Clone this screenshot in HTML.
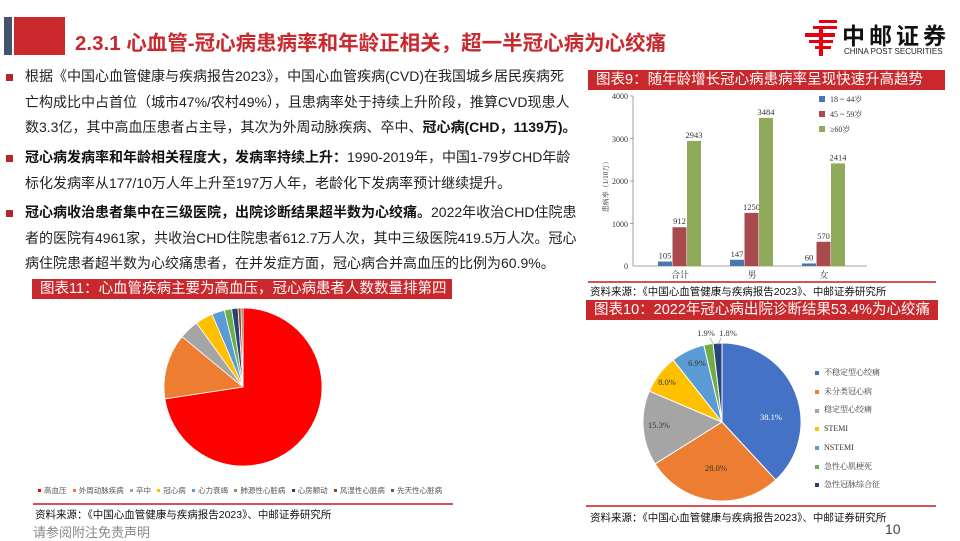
<!DOCTYPE html>
<html><head><meta charset="utf-8">
<style>
body{margin:0;width:960px;height:540px;position:relative;overflow:hidden;background:#fff;font-family:"Liberation Sans","Noto Sans CJK SC",sans-serif;}
.a{position:absolute;white-space:nowrap;}
.txt{position:absolute;left:25px;font-size:14px;color:#222;line-height:25.6px;white-space:nowrap;}
.bul{position:absolute;left:6px;width:7px;height:7px;background:#b5272d;}
.cap{position:absolute;background:#c9282d;color:#fff;font-size:14.5px;line-height:20px;padding-left:8px;}
.src{position:absolute;font-size:10.5px;color:#111;}
.rl{position:absolute;height:2px;background:#c9282d;opacity:.8}
b{font-weight:bold;color:#111}
</style></head><body>
<div class="a" style="left:4px;top:17px;width:8px;height:38px;background:#44546a"></div>
<div class="a" style="left:14px;top:17px;width:51px;height:38px;background:#c9282d"></div>
<div class="a" style="left:75px;top:26px;font-size:20.5px;font-weight:bold;color:#c9282d">2.3.1 心血管-冠心病患病率和年龄正相关，超一半冠心病为心绞痛</div>
<svg class="a" style="left:805px;top:20px" width="34" height="36" viewBox="0 0 34 36">
<g fill="#e60012"><rect x="14" y="0" width="18" height="3"/><rect x="8" y="6" width="24" height="3"/><rect x="0" y="13" width="30" height="4"/><rect x="4" y="20" width="24" height="3"/><rect x="10" y="26" width="16" height="3"/><rect x="14" y="6" width="4" height="30"/></g></svg>
<div class="a" style="left:842px;top:17px;font-size:23px;font-weight:bold;letter-spacing:4px;color:#111">中邮证券</div>
<div class="a" style="left:844px;top:47px;font-size:8px;color:#222">CHINA POST SECURITIES</div>

<div class="bul" style="top:74px"></div>
<div class="txt" style="top:64px">根据《中国心血管健康与疾病报告2023》，中国心血管疾病(CVD)在我国城乡居民疾病死<br>亡构成比中占首位（城市47%/农村49%），且患病率处于持续上升阶段，推算CVD现患人<br>数3.3亿，其中高血压患者占主导，其次为外周动脉疾病、卒中、<b>冠心病(CHD，1139万)。</b></div>
<div class="bul" style="top:155px"></div>
<div class="txt" style="top:145px"><b>冠心病发病率和年龄相关程度大，发病率持续上升：</b>1990-2019年，中国1-79岁CHD年龄<br>标化发病率从177/10万人年上升至197万人年，老龄化下发病率预计继续提升。</div>
<div class="bul" style="top:210px"></div>
<div class="txt" style="top:200px"><b>冠心病收治患者集中在三级医院，出院诊断结果超半数为心绞痛。</b>2022年收治CHD住院患<br>者的医院有4961家，共收治CHD住院患者612.7万人次，其中三级医院419.5万人次。冠心<br>病住院患者超半数为心绞痛患者，在并发症方面，冠心病合并高血压的比例为60.9%。</div>

<div class="cap" style="left:588px;top:70px;width:349px">图表9：随年龄增长冠心病患病率呈现快速升高趋势</div>
<svg class="a" style="left:590px;top:90px" width="350" height="200" font-family="Liberation Serif,Noto Serif CJK SC,serif" font-size="8" fill="#333">
<g stroke="#888" stroke-width="0.8"><line x1="43" y1="6" x2="43" y2="176"/><line x1="43" y1="176" x2="277" y2="176"/>
<line x1="40" y1="6" x2="43" y2="6"/><line x1="40" y1="48.5" x2="43" y2="48.5"/><line x1="40" y1="91" x2="43" y2="91"/><line x1="40" y1="133.5" x2="43" y2="133.5"/></g>
<g text-anchor="end"><text x="38" y="9">4000</text><text x="38" y="52">3000</text><text x="38" y="94">2000</text><text x="38" y="137">1000</text><text x="38" y="179">0</text></g>
<text transform="translate(18,95) rotate(-90)" text-anchor="middle" font-size="7">患病率（1/10万）</text>
<g id="bars"></g>
<g text-anchor="middle" font-size="9"><text x="90" y="188">合计</text><text x="162" y="188">男</text><text x="234" y="188">女</text></g>
<rect x="229" y="6" width="6" height="6" fill="#4a76b0"/><text x="240" y="12">18 ~ 44岁</text>
<rect x="229" y="21" width="6" height="6" fill="#a94a4e"/><text x="240" y="27">45 ~ 59岁</text>
<rect x="229" y="36" width="6" height="6" fill="#8eaa5a"/><text x="240" y="42">≥60岁</text>
</svg>
<div class="rl" style="left:588px;top:281px;width:348px"></div>
<div class="src" style="left:590px;top:284px">资料来源：《中国心血管健康与疾病报告2023》、中邮证券研究所</div>

<div class="cap" style="left:32px;top:279px;width:412px">图表11：心血管疾病主要为高血压，冠心病患者人数数量排第四</div>
<svg class="a" style="left:0;top:0" width="960" height="540" id="pies"></svg>
<div class="a" style="left:38px;top:485px;font-size:7.5px;color:#555" id="leg11"></div>
<div class="rl" style="left:33px;top:503px;width:420px"></div>
<div class="src" style="left:35px;top:507px">资料来源：《中国心血管健康与疾病报告2023》、中邮证券研究所</div>

<div class="cap" style="left:586px;top:300px;width:344px">图表10：2022年冠心病出院诊断结果53.4%为心绞痛</div>
<div class="a" style="left:815px;top:364px;font-size:8px;color:#333;line-height:18.7px;font-family:'Liberation Serif','Noto Serif CJK SC',serif" id="leg10"></div>
<div class="rl" style="left:586px;top:505px;width:350px"></div>
<div class="src" style="left:590px;top:510px">资料来源：《中国心血管健康与疾病报告2023》、中邮证券研究所</div>

<div class="a" style="left:33px;top:522px;font-size:13px;color:#888">请参阅附注免责声明</div>
<div class="a" style="left:885px;top:521px;font-size:14px;color:#444">10</div>
<script>
var NS="http://www.w3.org/2000/svg";
function el(p,t,a){var e=document.createElementNS(NS,t);for(var k in a)e.setAttribute(k,a[k]);p.appendChild(e);return e;}
var bars=document.getElementById('bars');
var data=[[105,912,2943],[147,1250,3484],[60,570,2414]],cols=['#4a76b0','#a94a4e','#8eaa5a'],gx=[68,140,212];
data.forEach(function(g,i){g.forEach(function(v,j){var h=v/4000*170,x=gx[i]+j*14.5;
el(bars,'rect',{x:x,y:176-h,width:14,height:h,fill:cols[j]});
var t=el(bars,'text',{x:x+7,y:176-h-3,'text-anchor':'middle','font-size':'8.5'});t.textContent=v;});});
var svg=document.getElementById('pies');
function pie(cx,cy,r,vals,colors,stroke){var a=0,tot=vals.reduce(function(s,v){return s+v},0),mids=[];
vals.forEach(function(v,i){var a0=a/tot*2*Math.PI,a1=(a+v)/tot*2*Math.PI;a+=v;
var x0=cx+r*Math.sin(a0),y0=cy-r*Math.cos(a0),x1=cx+r*Math.sin(a1),y1=cy-r*Math.cos(a1);
el(svg,'path',{d:'M'+cx+','+cy+'L'+x0+','+y0+'A'+r+','+r+' 0 '+((a1-a0)>Math.PI?1:0)+' 1 '+x1+','+y1+'Z',fill:colors[i],stroke:'#fff','stroke-width':stroke});
mids.push((a0+a1)/2);});return mids;}
pie(243,387,79,[72.6,13.4,4,3.6,2.6,1.5,1.3,0.6,0.4],['#ff0000','#ed7d31','#a5a5a5','#ffc000','#5b9bd5','#70ad47','#264478','#9e480e','#636363'],0.8);
var v10=[38.1,28.0,15.3,8.0,6.9,1.9,1.8],c10=['#4472c4','#ed7d31','#a5a5a5','#ffc000','#5b9bd5','#70ad47','#264478'];
var m=pie(722,422,79,v10,c10,1);
var lab=[[771,420,'#fff'],[716,471,'#333'],[659,428,'#333'],[667,385,'#333'],[697,366,'#333'],[706,336,'#333'],[728,336,'#333']];
v10.forEach(function(v,i){var t=el(svg,'text',{x:lab[i][0],y:lab[i][1],'text-anchor':'middle','font-size':'8.5',fill:lab[i][2],'font-family':'Liberation Serif,serif'});t.textContent=v.toFixed(1)+'%';});
el(svg,'line',{x1:710,y1:338,x2:714,y2:345,stroke:'#888','stroke-width':0.6});
el(svg,'line',{x1:721,y1:338,x2:718,y2:345,stroke:'#888','stroke-width':0.6});
var n10=['不稳定型心绞痛','未分类冠心病','稳定型心绞痛','STEMI','NSTEMI','急性心肌梗死','急性冠脉综合征'];
document.getElementById('leg10').innerHTML=n10.map(function(n,i){return '<span style="display:inline-block;width:4px;height:4px;background:'+c10[i]+';margin-right:5px;vertical-align:middle"></span>'+n}).join('<br>');
var n11=['高血压','外周动脉疾病','卒中','冠心病','心力衰竭','肺源性心脏病','心房颤动','风湿性心脏病','先天性心脏病'],c11=['#ff0000','#ed7d31','#a5a5a5','#ffc000','#5b9bd5','#70ad47','#264478','#9e480e','#636363'];
document.getElementById('leg11').innerHTML=n11.map(function(n,i){return '<span style="display:inline-block;width:3px;height:3px;background:'+c11[i]+';margin:0 3px 1px 0;vertical-align:middle"></span>'+n}).join('&nbsp;&nbsp;&nbsp;');
</script>
</body></html>
